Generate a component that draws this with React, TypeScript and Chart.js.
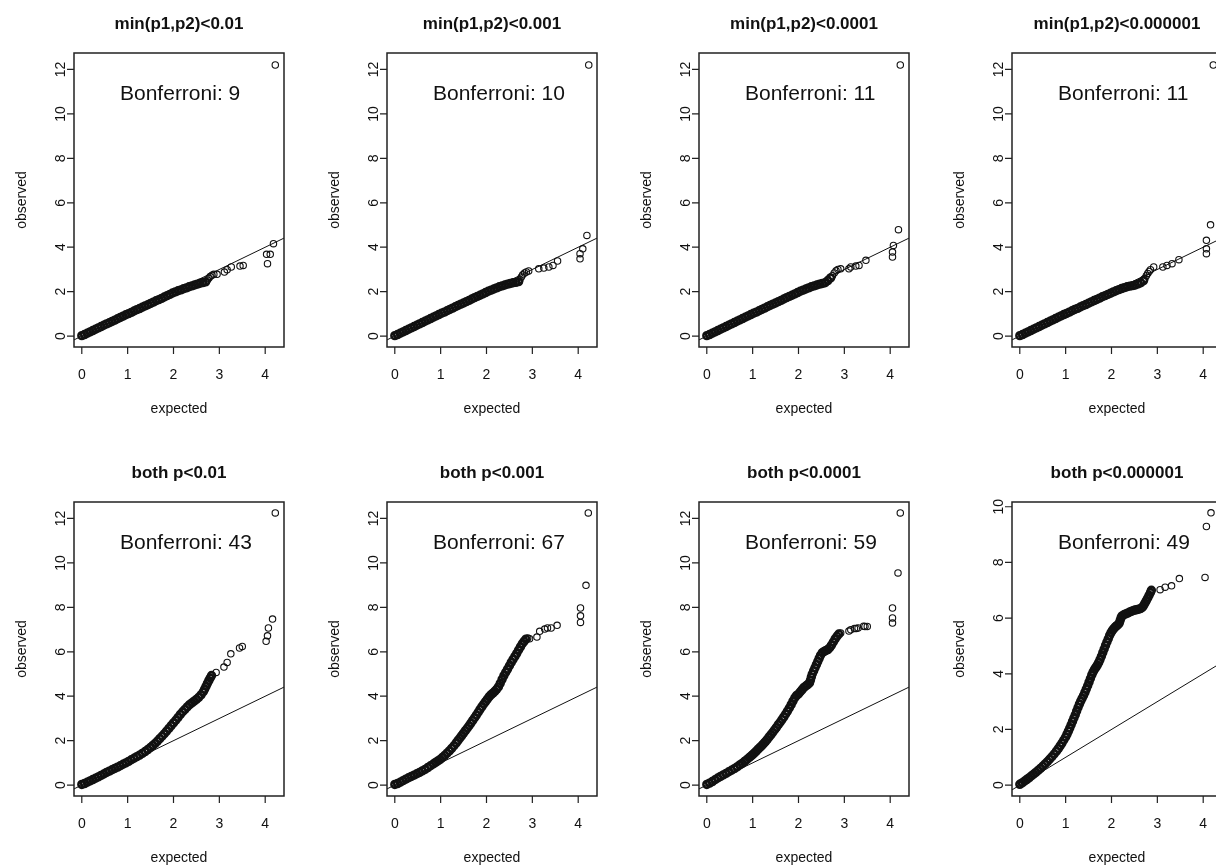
import React, { useEffect, useRef } from "react";
import { Chart, registerables } from "chart.js";

Chart.register(...registerables);

// ---------- data ----------
const xTicks = [0, 1, 2, 3, 4];
const yTicksMain = [0, 2, 4, 6, 8, 10, 12];
const yTicksLast = [0, 2, 4, 6, 8, 10];

const xLimits = [-0.17, 4.41];
const yLimitsMain = [-0.49, 12.74];
const yLimitsLast = [-0.39, 10.17];

const panelTitles = [
  "min(p1,p2)<0.01",
  "min(p1,p2)<0.001",
  "min(p1,p2)<0.0001",
  "min(p1,p2)<0.000001",
  "both p<0.01",
  "both p<0.001",
  "both p<0.0001",
  "both p<0.000001",
];
const bonferroniCounts = [9, 10, 11, 11, 43, 67, 59, 49];

// top row: dense part of the QQ curve (shared expected values)
const topBandX = [
  0.0, 0.06, 0.12, 0.18, 0.24, 0.3, 0.36, 0.42, 0.48, 0.54, 0.6, 0.66, 0.72, 0.78, 0.84, 0.9,
  0.96, 1.02, 1.08, 1.14, 1.2, 1.26, 1.32, 1.38, 1.44, 1.5, 1.56, 1.62, 1.68, 1.74, 1.8, 1.86,
  1.92, 1.98, 2.04, 2.1, 2.16, 2.22, 2.28, 2.34, 2.4, 2.46, 2.52, 2.58, 2.64, 2.7,
];
const topBandY1 = [
  0.02, 0.07, 0.13, 0.19, 0.25, 0.31, 0.37, 0.43, 0.49, 0.55, 0.6, 0.66, 0.72, 0.78, 0.84, 0.9,
  0.96, 1.01, 1.07, 1.13, 1.19, 1.24, 1.3, 1.36, 1.41, 1.47, 1.53, 1.59, 1.64, 1.7, 1.76, 1.82,
  1.88, 1.94, 1.99, 2.04, 2.08, 2.13, 2.17, 2.22, 2.26, 2.3, 2.34, 2.38, 2.41, 2.44,
];
const topBandY2 = [
  0.02, 0.07, 0.13, 0.19, 0.25, 0.31, 0.37, 0.43, 0.49, 0.55, 0.61, 0.67, 0.73, 0.79, 0.85, 0.91,
  0.97, 1.03, 1.08, 1.14, 1.2, 1.26, 1.32, 1.38, 1.44, 1.49, 1.55, 1.61, 1.67, 1.73, 1.79, 1.84,
  1.9, 1.96, 2.02, 2.07, 2.12, 2.17, 2.22, 2.26, 2.3, 2.34, 2.37, 2.4, 2.42, 2.45,
];
const topBandY3 = [
  0.02, 0.07, 0.13, 0.19, 0.25, 0.31, 0.37, 0.43, 0.49, 0.55, 0.61, 0.67, 0.73, 0.79, 0.85, 0.91,
  0.97, 1.03, 1.08, 1.14, 1.2, 1.26, 1.32, 1.38, 1.44, 1.49, 1.55, 1.61, 1.67, 1.73, 1.79, 1.84,
  1.9, 1.96, 2.02, 2.07, 2.12, 2.17, 2.22, 2.26, 2.3, 2.34, 2.37, 2.4, 2.5, 2.62,
];
const topBandY4 = [
  0.02, 0.07, 0.13, 0.19, 0.25, 0.31, 0.37, 0.43, 0.49, 0.55, 0.61, 0.67, 0.73, 0.79, 0.85, 0.91,
  0.97, 1.02, 1.08, 1.14, 1.2, 1.25, 1.31, 1.37, 1.42, 1.48, 1.54, 1.6, 1.65, 1.71, 1.77, 1.82,
  1.88, 1.93, 1.99, 2.04, 2.09, 2.14, 2.18, 2.22, 2.25, 2.27, 2.3, 2.35, 2.4, 2.5,
];

// top row: upper tail points
const topTailX1 = [2.74, 2.77, 2.8, 2.84, 2.88, 2.95, 3.11, 3.17, 3.26, 3.45, 3.52, 4.05, 4.03, 4.11, 4.18, 4.22];
const topTailY1 = [2.52, 2.6, 2.68, 2.74, 2.78, 2.78, 2.88, 2.99, 3.11, 3.15, 3.18, 3.26, 3.68, 3.68, 4.16, 12.2];
const topTailX2 = [2.73, 2.76, 2.79, 2.83, 2.87, 2.92, 3.14, 3.25, 3.36, 3.45, 3.55, 4.04, 4.04, 4.1, 4.19, 4.23];
const topTailY2 = [2.55, 2.66, 2.76, 2.84, 2.89, 2.93, 3.03, 3.06, 3.11, 3.18, 3.38, 3.48, 3.71, 3.93, 4.53, 12.2];
const topTailX3 = [2.74, 2.78, 2.82, 2.86, 2.92, 3.1, 3.14, 3.25, 3.32, 3.47, 4.05, 4.05, 4.07, 4.18, 4.22];
const topTailY3 = [2.72, 2.84, 2.94, 3.0, 3.03, 3.03, 3.11, 3.15, 3.18, 3.41, 3.56, 3.78, 4.08, 4.79, 12.2];
const topTailX4 = [2.73, 2.76, 2.79, 2.82, 2.85, 2.92, 3.12, 3.21, 3.32, 3.47, 4.07, 4.07, 4.07, 4.16, 4.22];
const topTailY4 = [2.6, 2.72, 2.82, 2.91, 2.99, 3.11, 3.11, 3.18, 3.26, 3.44, 3.71, 3.93, 4.31, 5.01, 12.2];

// bottom row: dense part of the QQ curve
const botBandX1 = [
  0.0, 0.06, 0.12, 0.18, 0.24, 0.3, 0.36, 0.42, 0.48, 0.54, 0.6, 0.66, 0.72, 0.78, 0.84, 0.9,
  0.96, 1.02, 1.08, 1.14, 1.2, 1.26, 1.32, 1.38, 1.44, 1.5, 1.55, 1.6, 1.65, 1.7, 1.75, 1.8,
  1.85, 1.9, 1.95, 2.0, 2.05, 2.1, 2.15, 2.2, 2.25, 2.3, 2.35, 2.4, 2.45, 2.5, 2.55, 2.6,
  2.65, 2.68, 2.71, 2.74, 2.77, 2.8, 2.83,
];
const botBandY1 = [
  0.03, 0.07, 0.13, 0.19, 0.25, 0.31, 0.37, 0.44, 0.5, 0.57, 0.63, 0.69, 0.75, 0.81, 0.87, 0.94,
  1.0, 1.07, 1.14, 1.21, 1.28, 1.35, 1.43, 1.51, 1.6, 1.7, 1.79, 1.88, 1.98, 2.09, 2.2, 2.31,
  2.43, 2.55, 2.68, 2.8, 2.92, 3.05, 3.18, 3.3, 3.41, 3.52, 3.62, 3.7, 3.78, 3.86, 3.95, 4.06,
  4.2, 4.32, 4.45, 4.58, 4.7, 4.82, 4.93,
];
const botBandX2 = [
  0.0, 0.06, 0.12, 0.18, 0.24, 0.3, 0.36, 0.42, 0.48, 0.54, 0.6, 0.66, 0.72, 0.78, 0.84, 0.89,
  0.94, 0.99, 1.04, 1.09, 1.14, 1.19, 1.24, 1.29, 1.34, 1.38, 1.42, 1.46, 1.5, 1.54, 1.58, 1.62,
  1.66, 1.7, 1.74, 1.78, 1.82, 1.86, 1.9, 1.94, 1.98, 2.02, 2.06, 2.1, 2.14, 2.18, 2.22, 2.26,
  2.3, 2.34, 2.38, 2.42, 2.46, 2.5, 2.54, 2.58, 2.62, 2.66, 2.7, 2.74, 2.78, 2.82, 2.86,
];
const botBandY2 = [
  0.03, 0.07, 0.13, 0.2, 0.27, 0.33, 0.39, 0.45, 0.51, 0.57, 0.64, 0.71, 0.79, 0.87, 0.95, 1.02,
  1.09, 1.16, 1.25, 1.34, 1.44, 1.54, 1.65, 1.77, 1.9, 2.01, 2.12, 2.23, 2.34, 2.45, 2.56, 2.67,
  2.79, 2.91, 3.03, 3.15, 3.28, 3.41, 3.53, 3.65, 3.76, 3.87, 3.98, 4.07, 4.14, 4.22, 4.31, 4.42,
  4.58, 4.76, 4.93, 5.08, 5.22, 5.37, 5.52, 5.66, 5.79, 5.93, 6.08, 6.22, 6.36, 6.47, 6.57,
];
const botBandX3 = [
  0.0, 0.06, 0.12, 0.18, 0.24, 0.3, 0.36, 0.42, 0.48, 0.54, 0.6, 0.66, 0.72, 0.77, 0.82, 0.87,
  0.92, 0.96, 1.0, 1.04, 1.08, 1.12, 1.16, 1.2, 1.24, 1.28, 1.32, 1.36, 1.4, 1.44, 1.48, 1.52,
  1.56, 1.6, 1.64, 1.68, 1.72, 1.76, 1.8, 1.84, 1.88, 1.92, 1.96, 2.0, 2.04, 2.08, 2.12, 2.16,
  2.2, 2.24, 2.26, 2.28, 2.3, 2.33, 2.36, 2.39, 2.42, 2.45, 2.48, 2.52, 2.56, 2.6, 2.64, 2.68,
  2.72, 2.76, 2.8, 2.84, 2.88,
];
const botBandY3 = [
  0.03, 0.09, 0.16, 0.24, 0.32, 0.39, 0.46, 0.53, 0.6, 0.67, 0.74, 0.82, 0.91, 0.98, 1.06, 1.14,
  1.23, 1.3, 1.37, 1.45, 1.53, 1.62, 1.7, 1.78, 1.87, 1.96, 2.06, 2.17, 2.27, 2.38, 2.49, 2.6,
  2.72, 2.83, 2.95, 3.07, 3.2, 3.33, 3.47, 3.62, 3.78, 3.93, 4.04, 4.1, 4.2, 4.3, 4.4, 4.46,
  4.52, 4.6, 4.72, 4.86, 5.0, 5.14, 5.28, 5.42, 5.56, 5.7, 5.84, 5.96, 6.02, 6.06, 6.1, 6.18,
  6.3, 6.44, 6.58, 6.7, 6.8,
];
const botBandX4 = [
  0.0, 0.05, 0.1, 0.15, 0.2, 0.25, 0.3, 0.35, 0.4, 0.45, 0.5, 0.55, 0.6, 0.65, 0.7, 0.75,
  0.8, 0.84, 0.88, 0.92, 0.96, 1.0, 1.03, 1.06, 1.09, 1.12, 1.15, 1.18, 1.21, 1.24, 1.27, 1.3,
  1.33, 1.36, 1.39, 1.42, 1.45, 1.48, 1.51, 1.54, 1.57, 1.6, 1.63, 1.66, 1.69, 1.72, 1.75, 1.78,
  1.81, 1.84, 1.87, 1.9, 1.93, 1.96, 1.99, 2.02, 2.05, 2.08, 2.11, 2.14, 2.17, 2.19, 2.21, 2.23,
  2.27, 2.31, 2.35, 2.39, 2.43, 2.47, 2.51, 2.55, 2.59, 2.63, 2.67, 2.7, 2.73, 2.76, 2.79, 2.82,
  2.85, 2.87,
];
const botBandY4 = [
  0.03, 0.08, 0.14, 0.2, 0.26, 0.33, 0.39, 0.46, 0.53, 0.6, 0.68, 0.76, 0.84, 0.93, 1.02, 1.12,
  1.22, 1.31, 1.41, 1.51, 1.62, 1.73, 1.83, 1.94, 2.05, 2.17, 2.29, 2.41, 2.53, 2.66, 2.79, 2.91,
  3.02, 3.12, 3.22, 3.33, 3.45, 3.57, 3.7, 3.83, 3.96, 4.07, 4.16, 4.23, 4.31, 4.4, 4.51, 4.63,
  4.76, 4.89, 5.02, 5.14, 5.26, 5.38, 5.48, 5.56, 5.62, 5.68, 5.72, 5.76, 5.82, 5.92, 6.02, 6.08,
  6.12, 6.15, 6.18, 6.21, 6.24, 6.27, 6.29, 6.3, 6.32, 6.34, 6.38, 6.45, 6.54, 6.63, 6.72, 6.82,
  6.92, 7.0,
];

// bottom row: upper tail points
const botTailX1 = [2.93, 3.1, 3.17, 3.25, 3.44, 3.5, 4.02, 4.05, 4.07, 4.16, 4.22];
const botTailY1 = [5.07, 5.31, 5.52, 5.91, 6.17, 6.24, 6.47, 6.72, 7.07, 7.47, 12.25];
const botTailX2 = [2.9, 2.94, 3.1, 3.16, 3.27, 3.33, 3.41, 3.54, 4.05, 4.05, 4.05, 4.17, 4.22];
const botTailY2 = [6.62, 6.59, 6.66, 6.92, 7.02, 7.07, 7.07, 7.19, 7.32, 7.62, 7.97, 8.99, 12.25];
const botTailX3 = [2.92, 3.1, 3.14, 3.22, 3.26, 3.3, 3.42, 3.45, 3.5, 4.05, 4.05, 4.05, 4.17, 4.22];
const botTailY3 = [6.85, 6.93, 6.99, 7.05, 7.05, 7.07, 7.15, 7.14, 7.14, 7.29, 7.52, 7.97, 9.55, 12.25];
const botTailX4 = [3.06, 3.17, 3.31, 3.48, 4.04, 4.07, 4.17];
const botTailY4 = [7.02, 7.11, 7.16, 7.42, 7.46, 9.29, 9.78];

// ---------- layout (pixels) ----------
const FONT = "'Liberation Sans', Arial, Helvetica, sans-serif";
const CELL_W = 313;
const CELL_H = 449;
const colLefts = [0, 313, 625, 938];
const rowTops = [0, 449];

type Panel = {
  title: string;
  count: number;
  bandX: number[];
  bandY: number[];
  tailX: number[];
  tailY: number[];
  yTicks: number[];
  yLimits: number[];
};

const panels: Panel[] = [
  { title: panelTitles[0], count: bonferroniCounts[0], bandX: topBandX, bandY: topBandY1, tailX: topTailX1, tailY: topTailY1, yTicks: yTicksMain, yLimits: yLimitsMain },
  { title: panelTitles[1], count: bonferroniCounts[1], bandX: topBandX, bandY: topBandY2, tailX: topTailX2, tailY: topTailY2, yTicks: yTicksMain, yLimits: yLimitsMain },
  { title: panelTitles[2], count: bonferroniCounts[2], bandX: topBandX, bandY: topBandY3, tailX: topTailX3, tailY: topTailY3, yTicks: yTicksMain, yLimits: yLimitsMain },
  { title: panelTitles[3], count: bonferroniCounts[3], bandX: topBandX, bandY: topBandY4, tailX: topTailX4, tailY: topTailY4, yTicks: yTicksMain, yLimits: yLimitsMain },
  { title: panelTitles[4], count: bonferroniCounts[4], bandX: botBandX1, bandY: botBandY1, tailX: botTailX1, tailY: botTailY1, yTicks: yTicksMain, yLimits: yLimitsMain },
  { title: panelTitles[5], count: bonferroniCounts[5], bandX: botBandX2, bandY: botBandY2, tailX: botTailX2, tailY: botTailY2, yTicks: yTicksMain, yLimits: yLimitsMain },
  { title: panelTitles[6], count: bonferroniCounts[6], bandX: botBandX3, bandY: botBandY3, tailX: botTailX3, tailY: botTailY3, yTicks: yTicksMain, yLimits: yLimitsMain },
  { title: panelTitles[7], count: bonferroniCounts[7], bandX: botBandX4, bandY: botBandY4, tailX: botTailX4, tailY: botTailY4, yTicks: yTicksLast, yLimits: yLimitsLast },
];

function makeRPlugin(p: Panel) {
  return {
    id: "rStyle",
    afterDraw(chart: any) {
      const { ctx, chartArea: a, scales } = chart;
      const xs = scales.x;
      const ys = scales.y;
      ctx.save();
      // box
      ctx.strokeStyle = "#222";
      ctx.lineWidth = 1.5;
      ctx.strokeRect(a.left, a.top, a.right - a.left, a.bottom - a.top);
      // tick marks
      ctx.lineWidth = 1.2;
      ctx.beginPath();
      for (const v of xTicks) {
        const px = xs.getPixelForValue(v);
        ctx.moveTo(px, a.bottom);
        ctx.lineTo(px, a.bottom + 7);
      }
      for (const v of p.yTicks) {
        const py = ys.getPixelForValue(v);
        ctx.moveTo(a.left, py);
        ctx.lineTo(a.left - 7, py);
      }
      ctx.stroke();

      ctx.fillStyle = "#111";
      // x tick labels
      ctx.font = `14px ${FONT}`;
      ctx.textAlign = "center";
      ctx.textBaseline = "alphabetic";
      for (const v of xTicks) {
        ctx.fillText(String(v), xs.getPixelForValue(v), a.bottom + 31.5);
      }
      // y tick labels (rotated like R)
      for (const v of p.yTicks) {
        ctx.save();
        ctx.translate(a.left - 9, ys.getPixelForValue(v));
        ctx.rotate(-Math.PI / 2);
        ctx.fillText(String(v), 0, 0);
        ctx.restore();
      }
      const cx = (a.left + a.right) / 2;
      const cy = (a.top + a.bottom) / 2;
      // axis titles
      ctx.fillText("expected", cx, a.bottom + 65.5);
      ctx.save();
      ctx.translate(a.left - 48.5, cy);
      ctx.rotate(-Math.PI / 2);
      ctx.fillText("observed", 0, 0);
      ctx.restore();
      // main title
      ctx.font = `bold 17px ${FONT}`;
      ctx.fillText(p.title, cx, a.top - 24.5);
      // Bonferroni annotation
      ctx.font = `21px ${FONT}`;
      ctx.textAlign = "left";
      ctx.fillText(`Bonferroni: ${p.count}`, a.left + 46, a.top + 47);
      ctx.restore();
    },
  };
}

function QQPanel({ p, left, top }: { p: Panel; left: number; top: number }) {
  const ref = useRef<HTMLCanvasElement | null>(null);
  useEffect(() => {
    const canvas = ref.current;
    if (!canvas) return;
    const band = p.bandX.map((x, i) => ({ x, y: p.bandY[i] }));
    const tail = p.tailX.map((x, i) => ({ x, y: p.tailY[i] }));
    const chart = new Chart(canvas, {
      type: "scatter",
      data: {
        datasets: [
          {
            data: [
              { x: xLimits[0], y: xLimits[0] },
              { x: xLimits[1], y: xLimits[1] },
            ],
            showLine: true,
            borderColor: "#111",
            borderWidth: 1,
            pointRadius: 0,
          } as any,
          {
            data: band,
            pointStyle: "circle",
            pointRadius: 3.4,
            pointBorderWidth: 2.6,
            pointBorderColor: "#111",
            pointBackgroundColor: "rgba(0,0,0,0)",
            borderColor: "#111",
            backgroundColor: "rgba(0,0,0,0)",
          } as any,
          {
            data: tail,
            pointStyle: "circle",
            pointRadius: 3.2,
            pointBorderWidth: 1.1,
            pointBorderColor: "#111",
            pointBackgroundColor: "rgba(0,0,0,0)",
            borderColor: "#111",
            backgroundColor: "rgba(0,0,0,0)",
          } as any,
        ],
      },
      options: {
        responsive: false,
        animation: false,
        events: [],
        devicePixelRatio: 1,
        layout: { padding: { left: 74, right: 29, top: 53, bottom: 102 } },
        plugins: {
          legend: { display: false },
          tooltip: { enabled: false },
          title: { display: false },
        },
        scales: {
          x: {
            type: "linear",
            display: false,
            min: xLimits[0],
            max: xLimits[1],
            afterBuildTicks: (s: any) => {
              s.ticks = xTicks.map((v) => ({ value: v }));
            },
          },
          y: {
            type: "linear",
            display: false,
            min: p.yLimits[0],
            max: p.yLimits[1],
            afterBuildTicks: (s: any) => {
              s.ticks = p.yTicks.map((v) => ({ value: v }));
            },
          },
        },
      } as any,
      plugins: [makeRPlugin(p)],
    });
    return () => chart.destroy();
  }, [p]);
  return (
    <canvas
      ref={ref}
      width={CELL_W}
      height={CELL_H}
      style={{ position: "absolute", left, top, width: CELL_W, height: CELL_H }}
    />
  );
}

export default function App() {
  return (
    <div
      style={{
        position: "fixed",
        left: 0,
        top: 0,
        width: 1216,
        height: 865,
        overflow: "hidden",
        background: "#fff",
      }}
    >
      {panels.map((p, i) => (
        <QQPanel key={i} p={p} left={colLefts[i % 4]} top={rowTops[Math.floor(i / 4)]} />
      ))}
    </div>
  );
}
